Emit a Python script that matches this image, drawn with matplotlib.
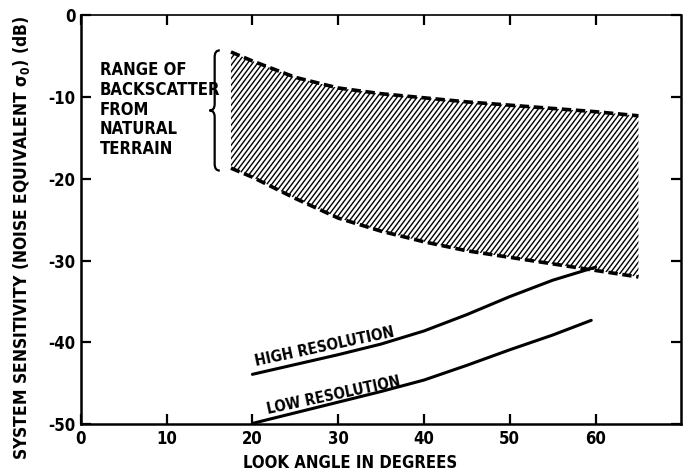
import matplotlib
matplotlib.use("Agg")
import numpy as np
import matplotlib.pyplot as plt
import matplotlib.hatch as mhatch
from matplotlib.path import Path
from matplotlib.patches import PathPatch

plt.rcParams['font.family'] = ['DejaVu Sans']
plt.rcParams['font.stretch'] = 'condensed'
plt.rcParams['font.weight'] = 'bold'
plt.rcParams['axes.labelweight'] = 'bold'
plt.rcParams['axes.unicode_minus'] = False
plt.rcParams['hatch.linewidth'] = 1.0
plt.rcParams['mathtext.fontset'] = 'dejavusans'


# slightly steeper diagonal hatch (like the hand-drawn original), replaces '/'
class SteepHatch(mhatch.HatchPatternBase):
    def __init__(self, hatch, density):
        self.num_lines = 20 if '/' in hatch else 0
        self.num_vertices = self.num_lines * 3 * 2

    def set_vertices_and_codes(self, vertices, codes):
        n = self.num_lines
        starts = np.arange(-n, 2 * n) / n
        vertices[0::2, 0] = starts
        vertices[0::2, 1] = 0.0
        vertices[1::2, 0] = starts + 0.75
        vertices[1::2, 1] = 1.0
        codes[0::2] = Path.MOVETO
        codes[1::2] = Path.LINETO


mhatch._hatch_types = [SteepHatch if t is mhatch.NorthEastHatch else t
                       for t in mhatch._hatch_types]

# ---- data ----
band_x = [17.5, 20, 25, 30, 35, 40, 45, 50, 55, 60, 65]
band_upper = [-4.5, -5.6, -7.6, -8.9, -9.6, -10.1, -10.6, -11.0, -11.4, -11.8, -12.3]
band_lower = [-18.7, -19.8, -22.4, -24.8, -26.4, -27.7, -28.8, -29.6, -30.4, -31.2, -32.0]

res_x = [20, 25, 30, 35, 40, 45, 50, 55, 60]
high_res = [-43.9, -42.7, -41.5, -40.2, -38.6, -36.6, -34.4, -32.4, -30.8]
low_x = [20, 25, 30, 35, 40, 45, 50, 55, 59.5]
low_res = [-49.9, -48.6, -47.3, -46.0, -44.6, -42.8, -40.9, -39.1, -37.3]

x_ticks = [0, 10, 20, 30, 40, 50, 60]
y_ticks = [0, -10, -20, -30, -40, -50]

fig = plt.figure(figsize=(6.91, 4.74), dpi=100)
ax = fig.add_axes([0.117, 0.105, 0.869, 0.863])
ax.set_xlim(0, 70)
ax.set_ylim(-50, 0)

# hatched band
ax.fill_between(band_x, band_lower, band_upper, facecolor='none',
                edgecolor='black', hatch='/', linewidth=0)
ax.plot(band_x, band_upper, color='black', lw=2.6, dashes=(2.6, 1.3))
ax.plot(band_x, band_lower, color='black', lw=2.6, dashes=(2.6, 1.3))

# resolution curves
ax.plot(res_x, high_res, color='black', lw=2.2, solid_capstyle='round')
ax.plot(low_x, low_res, color='black', lw=2.2, solid_capstyle='round')

ax.text(20.4, -42.9, 'HIGH RESOLUTION', rotation=12, rotation_mode='anchor',
        ha='left', va='baseline', fontsize=11)
ax.text(21.8, -48.8, 'LOW RESOLUTION', rotation=12, rotation_mode='anchor',
        ha='left', va='baseline', fontsize=10.8)

ax.text(2.2, -5.6, 'RANGE OF\nBACKSCATTER\nFROM\nNATURAL\nTERRAIN',
        ha='left', va='top', fontsize=12, linespacing=1.13)

# curly brace
x0, w, r = 15.6, 0.6, 0.8
ytop, ybot = -4.3, -19.0
ymid = (ytop + ybot) / 2
verts = [(x0 + w, ytop), (x0, ytop), (x0, ytop - r),
         (x0, ymid + r),
         (x0, ymid), (x0 - w, ymid),
         (x0, ymid), (x0, ymid - r),
         (x0, ybot + r),
         (x0, ybot), (x0 + w, ybot)]
codes = [Path.MOVETO, Path.CURVE3, Path.CURVE3,
         Path.LINETO,
         Path.CURVE3, Path.CURVE3,
         Path.CURVE3, Path.CURVE3,
         Path.LINETO,
         Path.CURVE3, Path.CURVE3]
ax.add_patch(PathPatch(Path(verts, codes), facecolor='none',
                       edgecolor='black', lw=1.6, clip_on=False))

# axes styling
for s in ax.spines.values():
    s.set_linewidth(1.8)
ax.spines['top'].set_linewidth(1.2)

ax.set_xticks(x_ticks)
ax.set_xticklabels([str(t) for t in x_ticks])
ax.set_yticks(y_ticks)
ax.set_yticklabels([str(t) for t in y_ticks])
ax.tick_params(axis='both', direction='in', length=7, width=1.6, labelsize=12,
               top=True, right=True)
ax.tick_params(axis='x', pad=4)
ax.tick_params(axis='y', pad=4)

ax.set_xlabel('LOOK ANGLE IN DEGREES', fontsize=12)
ax.xaxis.set_label_coords(0.448, -0.072)
ax.set_ylabel(r'SYSTEM SENSITIVITY (NOISE EQUIVALENT $\mathbf{\sigma_0}$) (dB)',
              fontsize=12.5)
ax.yaxis.set_label_coords(-0.082, 0.455)

fig.savefig('out.png', dpi=100)
